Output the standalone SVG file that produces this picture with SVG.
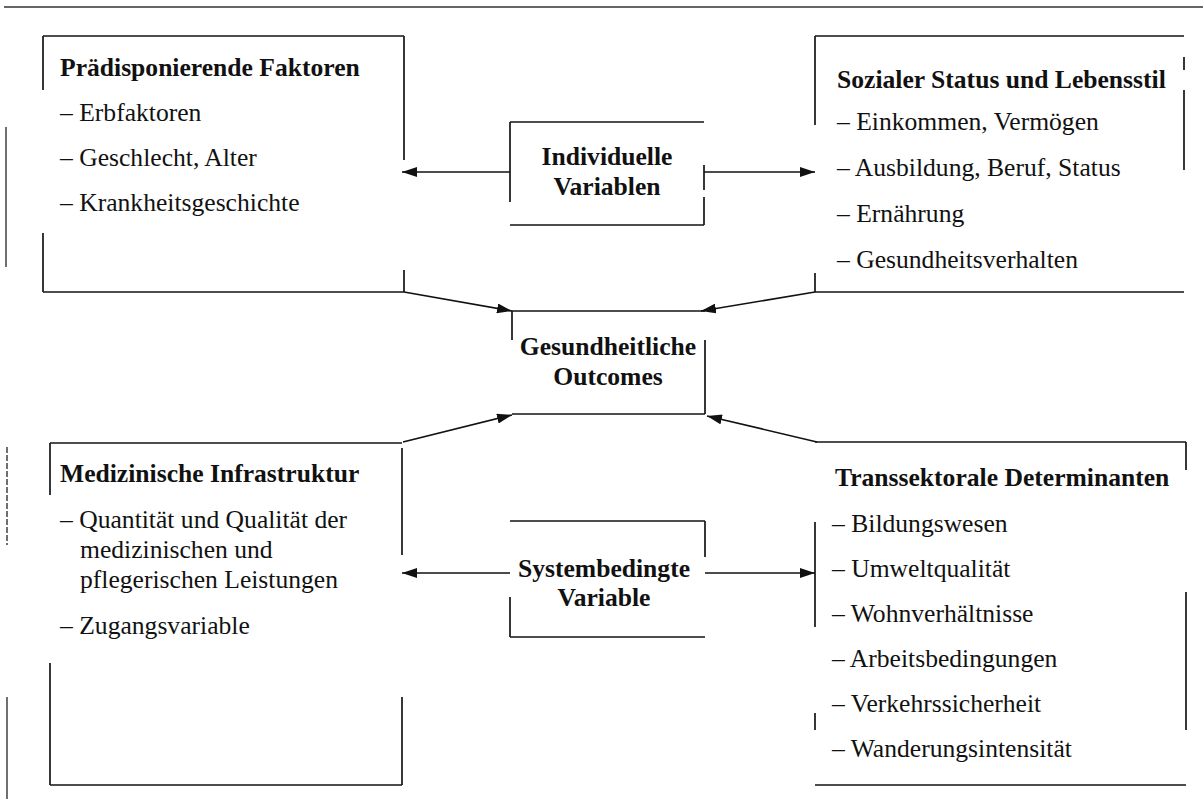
<svg xmlns="http://www.w3.org/2000/svg" width="1203" height="799" viewBox="0 0 1203 799">
  <style>
    .bg { fill: #ffffff; }
    .edge { stroke: #141414; stroke-width: 1.7; fill: none; }
    .margin { stroke: #333333; stroke-width: 1.4; fill: none; }
    .conn { stroke: #111111; stroke-width: 1.7; fill: none; marker-end: url(#arrow); }
    .head { font-family: "Liberation Serif", "Times New Roman", serif; font-size: 25.6px; font-weight: bold; fill: #111111; }
    .item { font-family: "Liberation Serif", "Times New Roman", serif; font-size: 25.6px; fill: #111111; }
    .mid { text-anchor: middle; }
  </style>
  <defs>
    <marker id="arrow" viewBox="0 0 15 10" refX="15" refY="5" markerWidth="15" markerHeight="10" markerUnits="userSpaceOnUse" orient="auto">
      <path d="M0,0 L15,5 L0,10 z" fill="#111111"/>
    </marker>
  </defs>

  <rect class="bg" x="0" y="0" width="1203" height="799"/>

  <!-- page rule and margin lines -->
  <g id="page-lines">
    <path class="margin" d="M4,7 H1203"/>
    <path class="margin" d="M6,127 V267"/>
    <path class="margin" d="M7,447 V545" stroke-dasharray="6 2"/>
    <path class="margin" d="M7,697 V799"/>
  </g>

  <!-- Prädisponierende Faktoren -->
  <g id="node-praedisponierend">
    <path class="edge" d="M43,36 H404 M43,292 H404 M43,36 V90 M43,233 V292 M404,36 V160 M404,270 V292"/>
    <text class="head" x="60" y="76">Prädisponierende Faktoren</text>
    <text class="item" x="60" y="121">– Erbfaktoren</text>
    <text class="item" x="60" y="166">– Geschlecht, Alter</text>
    <text class="item" x="60" y="211">– Krankheitsgeschichte</text>
  </g>

  <!-- Sozialer Status und Lebensstil -->
  <g id="node-sozial">
    <path class="edge" d="M815,36 H1184 M815,292 H1184 M815,36 V125 M815,273 V292 M1184,57 V70 M1184,90 V170"/>
    <text class="head" x="837" y="88">Sozialer Status und Lebensstil</text>
    <text class="item" x="837" y="130">– Einkommen, Vermögen</text>
    <text class="item" x="837" y="176">– Ausbildung, Beruf, Status</text>
    <text class="item" x="837" y="222">– Ernährung</text>
    <text class="item" x="837" y="268">– Gesundheitsverhalten</text>
  </g>

  <!-- Individuelle Variablen -->
  <g id="node-individuell">
    <path class="edge" d="M510,122 H704 M510,225 H704 M510,122 V202 M704,165 V190 M704,197 V225"/>
    <text class="head mid" x="607" y="165">Individuelle</text>
    <text class="head mid" x="607" y="195">Variablen</text>
  </g>

  <!-- Gesundheitliche Outcomes -->
  <g id="node-outcomes">
    <path class="edge" d="M512,311 H705 M512,414 H705 M512,311 V340 M705,340 V414"/>
    <text class="head mid" x="608" y="355">Gesundheitliche</text>
    <text class="head mid" x="608" y="385">Outcomes</text>
  </g>

  <!-- Medizinische Infrastruktur -->
  <g id="node-medizin">
    <path class="edge" d="M50,443 H402 M50,785 H402 M50,443 V495 M50,663 V785 M402,448 V555 M402,697 V785"/>
    <text class="head" x="60" y="482">Medizinische Infrastruktur</text>
    <text class="item" x="60" y="528">– Quantität und Qualität der</text>
    <text class="item" x="80" y="558">medizinischen und</text>
    <text class="item" x="80" y="588">pflegerischen Leistungen</text>
    <text class="item" x="60" y="634">– Zugangsvariable</text>
  </g>

  <!-- Systembedingte Variable -->
  <g id="node-system">
    <path class="edge" d="M510,521 H705 M510,637 H705 M705,521 V557 M510,597 V637"/>
    <text class="head mid" x="604" y="577">Systembedingte</text>
    <text class="head mid" x="604" y="606">Variable</text>
  </g>

  <!-- Transsektorale Determinanten -->
  <g id="node-transsektoral">
    <path class="edge" d="M815,442 H1186 M815,785 H1186 M815,522 V627 M815,713 V730 M1186,442 V470 M1186,592 V730"/>
    <text class="head" x="835" y="486">Transsektorale Determinanten</text>
    <text class="item" x="832" y="532">– Bildungswesen</text>
    <text class="item" x="832" y="577">– Umweltqualität</text>
    <text class="item" x="832" y="622">– Wohnverhältnisse</text>
    <text class="item" x="832" y="667">– Arbeitsbedingungen</text>
    <text class="item" x="832" y="712">– Verkehrssicherheit</text>
    <text class="item" x="832" y="757">– Wanderungsintensität</text>
  </g>

  <!-- connectors -->
  <g id="connectors">
    <path class="conn" d="M510,172 H402"/>
    <path class="conn" d="M704,172 H815"/>
    <path class="conn" d="M404,292 L512,311"/>
    <path class="conn" d="M815,292 L701,311"/>
    <path class="conn" d="M403,442 L512,415"/>
    <path class="conn" d="M817,442 L707,416"/>
    <path class="conn" d="M510,573 H402"/>
    <path class="conn" d="M705,573 H815"/>
  </g>
</svg>
